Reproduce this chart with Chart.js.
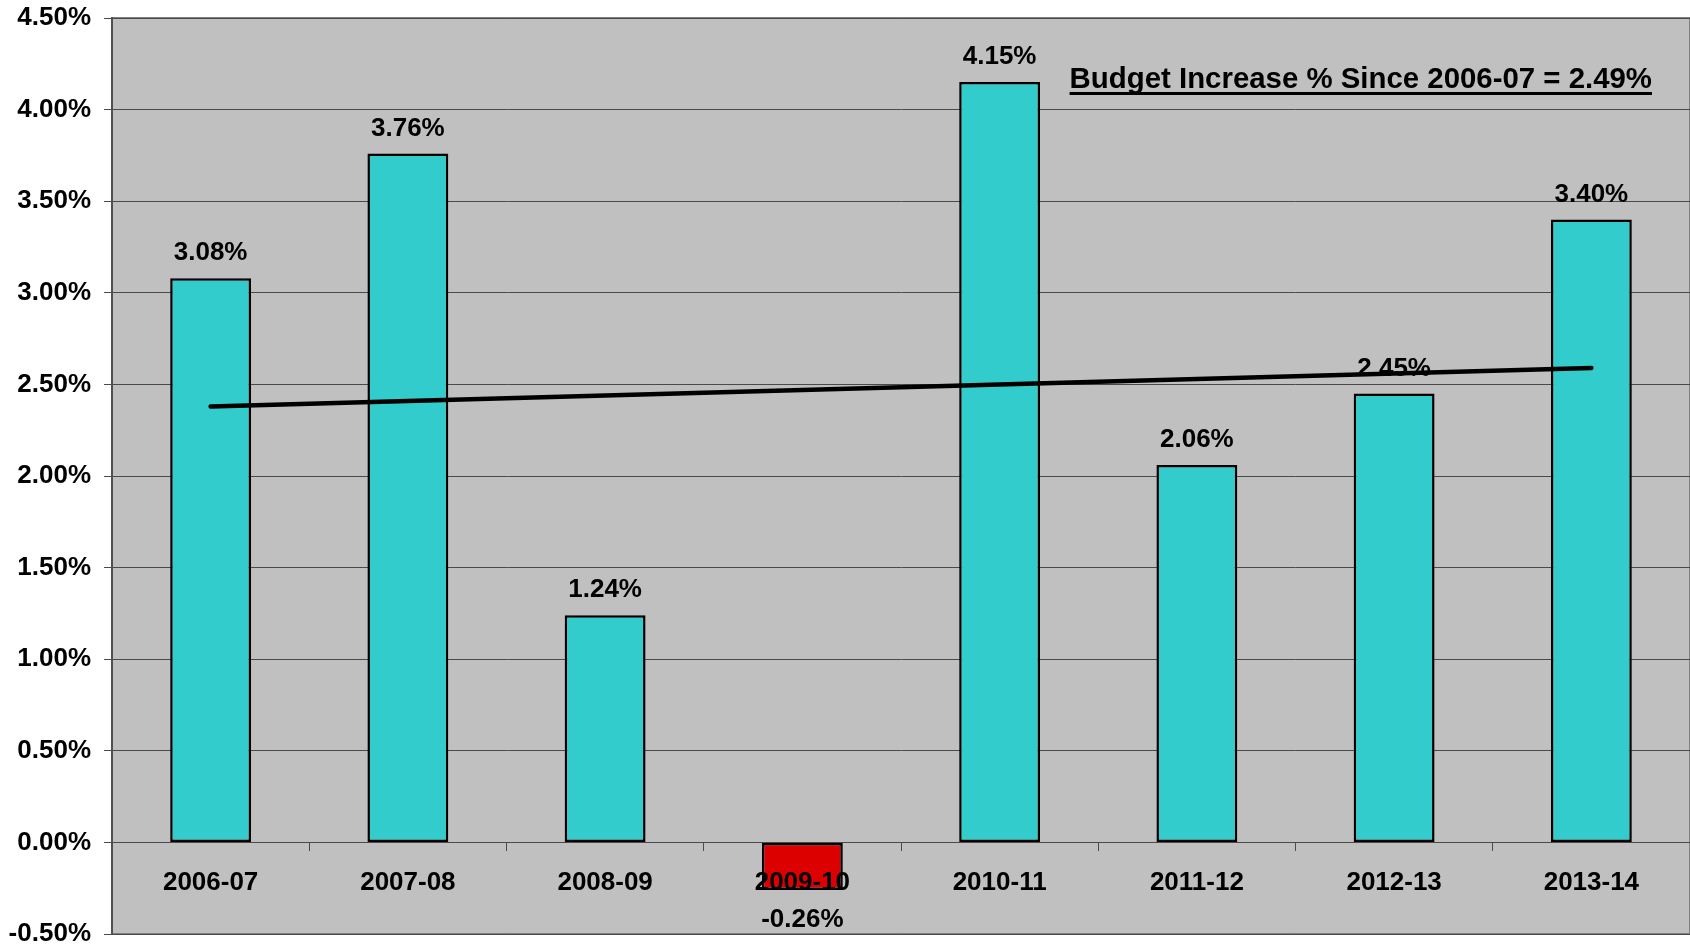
<!DOCTYPE html>
<html>
<head>
<meta charset="utf-8">
<title>Budget Increase %</title>
<script src="https://cdn.jsdelivr.net/npm/chart.js@4/dist/chart.umd.min.js"></script>
<style>
    html, body { margin: 0; padding: 0; background: #ffffff; }
    #wrap { width: 1690px; height: 948px; }
</style>
</head>
<body>
<div id="wrap"><canvas id="budgetChart" width="1690" height="948"></canvas></div>
<script>
// Yearly budget change, percent
const years = ['2006-07', '2007-08', '2008-09', '2009-10', '2010-11', '2011-12', '2012-13', '2013-14'];
const increases = [3.08, 3.76, 1.24, -0.26, 4.15, 2.06, 2.45, 3.40];
// Trend line, only the two end points are drawn
const trend = [2.38, null, null, null, null, null, null, 2.59];
const yTicks = [-0.5, 0, 0.5, 1.0, 1.5, 2.0, 2.5, 3.0, 3.5, 4.0, 4.5];
const summaryText = 'Budget Increase % Since 2006-07 = 2.49%';

const FONT = "'Liberation Sans', Arial, sans-serif";
const TEAL = '#33CCCC';
const RED = '#DD0000';

const pct = v => v.toFixed(2) + '%';

// grey plot background + frame
const plotBackground = {
    id: 'plotBackground',
    beforeDraw(chart) {
        const { ctx, chartArea: a } = chart;
        ctx.save();
        ctx.fillStyle = '#C0C0C0';
        ctx.fillRect(a.left, a.top, a.right - a.left, a.bottom - a.top);
        ctx.strokeStyle = '#808080';
        ctx.lineWidth = 2;
        ctx.strokeRect(a.left, a.top, a.right - a.left, a.bottom - a.top);
        ctx.restore();
    }
};

// value labels above / below each bar, drawn before the trend line
const barLabels = {
    id: 'barLabels',
    afterDatasetDraw(chart, args) {
        if (args.index !== 0) return;
        const { ctx } = chart;
        const meta = chart.getDatasetMeta(0);
        ctx.save();
        ctx.font = 'bold 26px ' + FONT;
        ctx.fillStyle = '#000000';
        ctx.textAlign = 'center';
        ctx.textBaseline = 'middle';
        meta.data.forEach((bar, i) => {
            const v = increases[i];
            const y = v >= 0 ? bar.y - 25 : bar.y + 30;
            ctx.fillText(pct(v), bar.x, y);
        });
        ctx.restore();
    }
};

// underlined summary in the upper right
const summary = {
    id: 'summary',
    afterDraw(chart) {
        const { ctx, chartArea: a } = chart;
        ctx.save();
        ctx.font = 'bold 29.4px ' + FONT;
        ctx.fillStyle = '#000000';
        ctx.textAlign = 'right';
        ctx.textBaseline = 'alphabetic';
        const right = a.right - 38;
        const base = 88;
        ctx.fillText(summaryText, right, base);
        const w = ctx.measureText(summaryText).width;
        ctx.fillRect(right - w, base + 4, w, 3);
        ctx.restore();
    }
};

const ctx = document.getElementById('budgetChart').getContext('2d');
new Chart(ctx, {
    data: {
        labels: years,
        datasets: [{
            type: 'bar',
            data: increases,
            backgroundColor: increases.map(v => v < 0 ? RED : TEAL),
            borderColor: '#000000',
            borderWidth: 2.5,
            borderSkipped: false,
            barPercentage: 0.41,
            categoryPercentage: 1.0,
            order: 2
        }, {
            type: 'line',
            data: trend,
            borderColor: '#000000',
            borderWidth: 4.5,
            borderCapStyle: 'round',
            pointRadius: 0,
            spanGaps: true,
            fill: false,
            order: 1
        }]
    },
    options: {
        responsive: false,
        animation: false,
        layout: { padding: { top: 18, right: 0, bottom: 14, left: 0 } },
        plugins: {
            legend: { display: false },
            tooltip: { enabled: false }
        },
        scales: {
            x: {
                position: { y: 0 },
                offset: true,
                afterFit: s => { s.height = 0; },
                grid: {
                    offset: true,
                    drawOnChartArea: false,
                    drawTicks: true,
                    tickLength: 8,
                    color: '#4a4a4a'
                },
                border: { display: true, color: '#4a4a4a', width: 1 },
                ticks: {
                    z: 1,
                    color: '#000000',
                    font: { family: FONT, size: 26, weight: 'bold', lineHeight: 1 },
                    padding: 19,
                    maxRotation: 0
                }
            },
            y: {
                min: -0.5,
                max: 4.5,
                afterFit: s => {
                    s.width = 112;
                    s.paddingTop = 0;
                    s.paddingBottom = 0;
                },
                afterBuildTicks: s => { s.ticks = yTicks.map(v => ({ value: v })); },
                grid: {
                    color: '#4a4a4a',
                    lineWidth: 1,
                    tickLength: 8
                },
                border: { color: '#505050', width: 2 },
                ticks: {
                    color: '#000000',
                    font: { family: FONT, size: 26, weight: 'bold', lineHeight: 1 },
                    padding: 13,
                    callback: v => pct(v)
                }
            }
        }
    },
    plugins: [plotBackground, barLabels, summary]
});
</script>
</body>
</html>
